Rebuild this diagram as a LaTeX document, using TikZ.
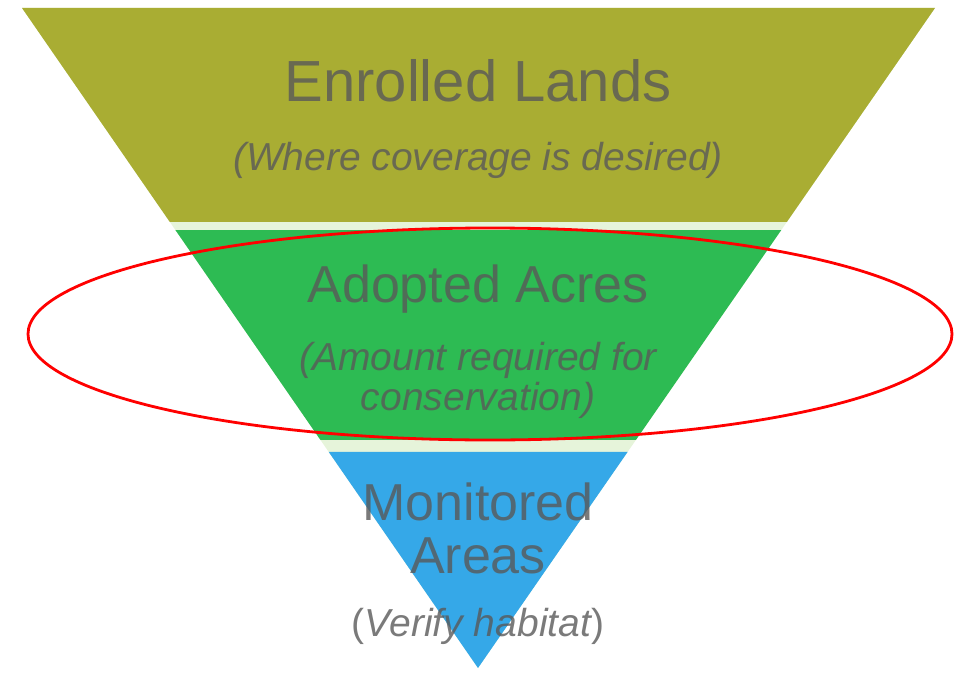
\documentclass[tikz,border=0pt]{standalone}
\usepackage{fontspec}
\setmainfont{Liberation Sans}
\usepackage{tikz}
\usetikzlibrary{positioning, calc}
\definecolor{enrolled}{HTML}{A9AD33}
\definecolor{adopted}{HTML}{2DBB53}
\definecolor{monitored}{HTML}{35A8E8}
\definecolor{seam}{HTML}{E6F4DA}
\tikzset{
  band/.style={draw=none},
  funneltext/.style={anchor=base, align=center, inner sep=0pt, text=black!65, text opacity=0.8},
}

\begin{document}
\begin{tikzpicture}[x=0.5pt, y=-0.5pt]
  \tikzset{
    title/.style={funneltext, font=\fontsize{26}{26.5}\selectfont},
    note/.style={funneltext, font=\fontsize{19.5}{20}\selectfont\itshape},
  }
  \useasboundingbox (0,0) rectangle (957,674);

  % Corners
  \coordinate (tl) at (22,8);
  \coordinate (tr) at (935,8);
  \coordinate (apex) at (478,668);

  % Bands
  \fill[seam] (tl) -- (tr) -- (apex) -- cycle;
  \fill[band, enrolled] (tl) -- (tr) -- ($(tr)!0.3242!(apex)$) -- ($(tl)!0.3242!(apex)$) -- cycle;
  \fill[band, adopted] ($(tl)!0.3364!(apex)$) -- ($(tr)!0.3364!(apex)$) -- ($(tr)!0.6545!(apex)$) -- ($(tl)!0.6545!(apex)$) -- cycle;
  \fill[band, monitored] ($(tl)!0.6727!(apex)$) -- ($(tr)!0.6727!(apex)$) -- (apex) -- cycle;

  % Nodes (multi-line nodes sit on their last line)
  \node[title, font=\fontsize{29}{30}\selectfont] (enrolled) at (478,102) {Enrolled Lands};
  \node[note] (enrollednote) at (478,170) {(Where coverage is desired)};

  \node[title] (adopted) at (478,302) {Adopted Acres};
  \node[note] (adoptednote) at (478,410) {(Amount required for\\conservation)};

  \node[title] (monitored) at (478,573) {Monitored\\Areas};
  \node[note] (monitorednote) at (478,636) {{\upshape(}Verify habitat{\upshape)}};

  % Highlight
  \draw[red, line width=1.4pt] (490,334) ellipse [x radius=462, y radius=106];
\end{tikzpicture}
\end{document}
